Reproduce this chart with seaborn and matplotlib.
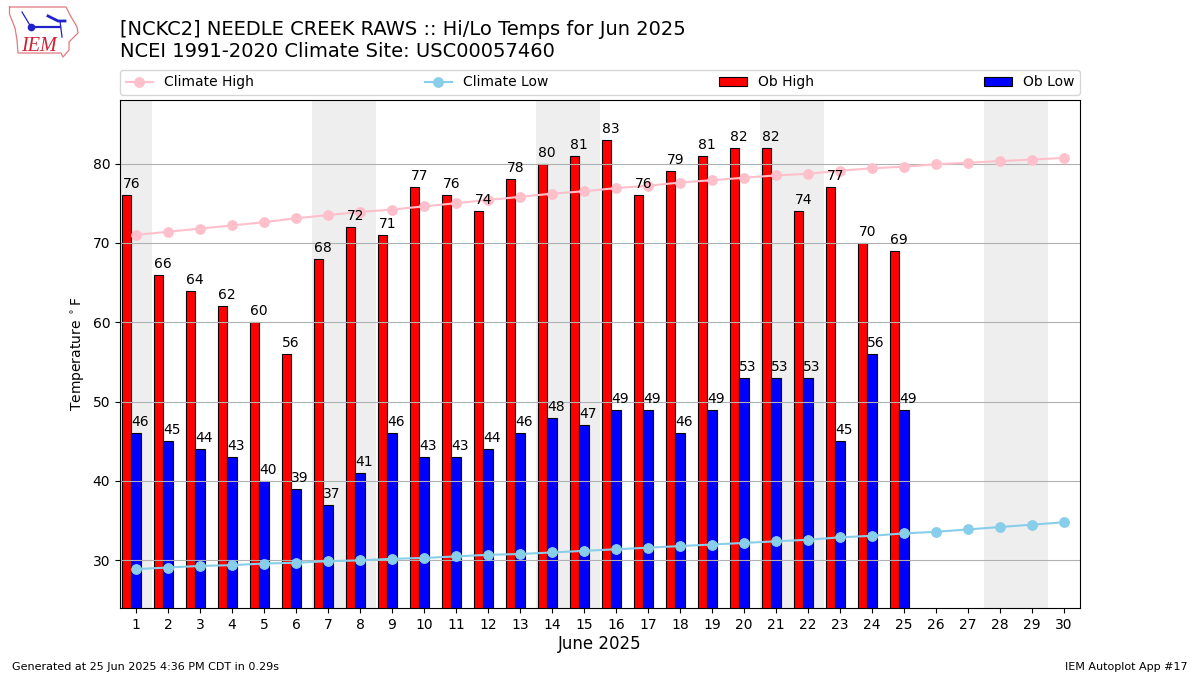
import numpy as np
import matplotlib
matplotlib.use("Agg")
import matplotlib.pyplot as plt
import seaborn as sns

days = np.arange(1, 31)
obs_days = np.arange(1, 26)
ob_high = [76, 66, 64, 62, 60, 56, 68, 72, 71, 77, 76, 74, 78, 80, 81, 83, 76, 79, 81, 82, 82, 74, 77, 70, 69]
ob_low = [46, 45, 44, 43, 40, 39, 37, 41, 46, 43, 43, 44, 46, 48, 47, 49, 49, 46, 49, 53, 53, 53, 45, 56, 49]
climate_high = [71.0, 71.4, 71.8, 72.2, 72.6, 73.1, 73.5, 73.9, 74.2, 74.6, 75.0, 75.4, 75.8, 76.2, 76.5,
                76.9, 77.2, 77.6, 77.9, 78.2, 78.5, 78.7, 79.1, 79.4, 79.6, 79.9, 80.1, 80.3, 80.5, 80.7]
climate_low = [28.9, 29.1, 29.3, 29.4, 29.6, 29.7, 29.9, 30.0, 30.2, 30.3, 30.5, 30.7, 30.8, 31.0, 31.2,
               31.4, 31.6, 31.8, 32.0, 32.2, 32.4, 32.6, 32.9, 33.1, 33.4, 33.6, 33.9, 34.2, 34.5, 34.8]
weekend_spans = [(0.5, 1.5), (6.5, 8.5), (13.5, 15.5), (20.5, 22.5), (27.5, 29.5)]

fig = plt.figure(figsize=(12, 6.75), dpi=100)
ax = fig.add_axes([0.1, 1 - 608 / 675, 0.8, 508 / 675])

for lo, hi in weekend_spans:
    ax.axvspan(lo, hi, color="#eeeeee", lw=0, zorder=0.5)

sns.barplot(x=obs_days - 0.3, y=ob_high, native_scale=True, width=0.3, color="red", saturation=1,
            edgecolor="black", linewidth=0.8, errorbar=None, label="Ob High", ax=ax)
sns.barplot(x=obs_days.astype(float), y=ob_low, native_scale=True, width=0.3, color="blue", saturation=1,
            edgecolor="black", linewidth=0.8, errorbar=None, label="Ob Low", ax=ax)
sns.lineplot(x=days, y=climate_high, color="pink", marker="o", markersize=7, markeredgecolor="pink",
             linewidth=1.5, label="Climate High", errorbar=None, ax=ax)
sns.lineplot(x=days, y=climate_low, color="skyblue", marker="o", markersize=7, markeredgecolor="skyblue",
             linewidth=1.5, label="Climate Low", errorbar=None, ax=ax)

for d, h, l in zip(obs_days, ob_high, ob_low):
    ax.text(d - 0.15, h + 0.5, str(h), ha="center", va="bottom", fontsize=10, color="black", zorder=5)
    ax.text(d + 0.12, l + 0.5, str(l), ha="center", va="bottom", fontsize=10, color="black", zorder=5)

ax.set_xlim(0.5, 30.5)
ax.set_ylim(24, 88)
ax.set_xticks(days)
ax.set_xticklabels([str(d) for d in days])
ax.set_yticks([30, 40, 50, 60, 70, 80])
ax.grid(True, axis="y", color="#b0b0b0", linewidth=0.8)
ax.grid(False, axis="x")
ax.set_xlabel("June 2025", fontsize=12, labelpad=2.3)
ax.set_ylabel(r"Temperature $^\circ$F", fontsize=10)

handles, labels = ax.get_legend_handles_labels()
order = [labels.index(n) for n in ["Climate High", "Climate Low", "Ob High", "Ob Low"]]
ax.legend([handles[i] for i in order], [labels[i] for i in order], loc="lower left",
          bbox_to_anchor=(0, 1.01, 1, 0.05), ncol=4, mode="expand", borderaxespad=0, fontsize=10)

fig.text(120 / 1200, 1 - 61 / 675, "[NCKC2] NEEDLE CREEK RAWS :: Hi/Lo Temps for Jun 2025\n"
         "NCEI 1991-2020 Climate Site: USC00057460", fontsize=14, ha="left", va="bottom", linespacing=1.2)
fig.text(12 / 1200, 1 - 672 / 675, "Generated at 25 Jun 2025 4:36 PM CDT in 0.29s", fontsize=8, ha="left", va="bottom")
fig.text(1188 / 1200, 1 - 672 / 675, "IEM Autoplot App #17", fontsize=8, ha="right", va="bottom")

# Simplified IEM logo
logo = fig.add_axes([0, 1 - 60 / 675, 80 / 1200, 60 / 675])
logo.set_xlim(0, 80)
logo.set_ylim(60, 0)
logo.axis("off")
outline_x = [9.5, 66, 70, 77, 78, 69, 69, 63, 61, 18, 17, 15, 9.5, 9.5]
outline_y = [7, 7, 15, 27, 33, 42, 50, 57, 53, 53, 40, 28, 14, 7]
logo.plot(outline_x, outline_y, color="#e07a80", lw=0.9)
logo.plot([31, 60], [27, 27], color="#2222cc", lw=1.6)
logo.plot([31, 22], [27, 12], color="#2222cc", lw=0.9)
logo.plot([48, 58, 65], [16, 21, 21], color="#2222cc", lw=2)
logo.plot([60, 62], [21, 37], color="#2222cc", lw=0.9)
logo.plot([31], [27], "o", color="#2222cc", ms=4.5)
logo.text(21, 51, "IEM", family="Liberation Serif", style="italic", color="#cc2233", fontsize=14.5, ha="left", va="baseline")

fig.savefig("out.png", dpi=100)
